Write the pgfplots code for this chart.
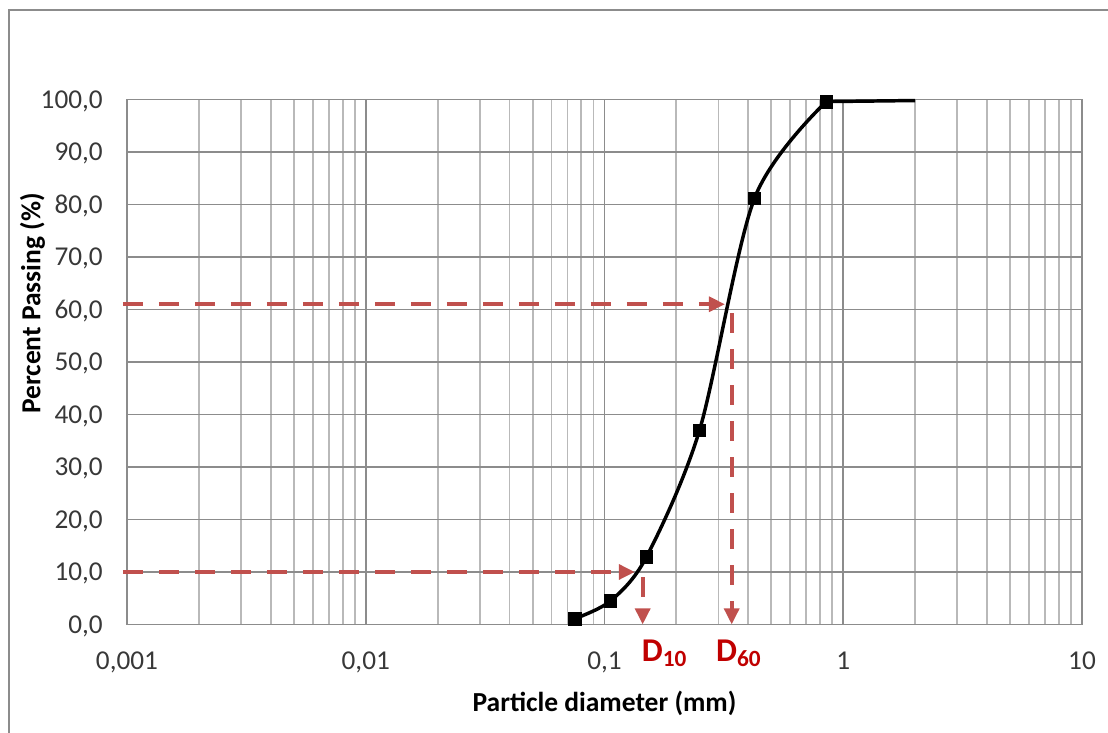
\documentclass[border=0pt]{standalone}
\usepackage{fontspec}
\setmainfont{Carlito}
\usepackage{pgfplots}
\pgfplotsset{compat=1.18}
\usetikzlibrary{arrows.meta}
\definecolor{gridmaj}{RGB}{140,140,140}
\definecolor{gridmin}{RGB}{185,185,185}
\definecolor{arrowred}{RGB}{192,80,77}
\definecolor{labred}{RGB}{192,0,0}
\definecolor{framegray}{RGB}{140,140,140}

\begin{document}
\begin{tikzpicture}[x=1bp,y=1bp]
\useasboundingbox (0,0) rectangle (831,549.75);
% outer chart frame (left and top visible)
\draw[framegray, line width=1.5bp] (6.375,-2) -- (6.375,542.6) -- (833,542.6);
\begin{axis}[
  at={(95.25bp,81.375bp)}, anchor=south west,
  scale only axis, width=716.25bp, height=393.75bp,
  xmode=log, xmin=0.001, xmax=10, ymin=0, ymax=100,
  clip=false,
  xtick={0.001,0.01,0.1,1,10},
  xticklabels={{0,001},{0,01},{0,1},1,10},
  minor xtick={0.002,0.003,0.004,0.005,0.006,0.007,0.008,0.009,
    0.02,0.03,0.04,0.05,0.06,0.07,0.08,0.09,
    0.2,0.3,0.4,0.5,0.6,0.7,0.8,0.9,
    2,3,4,5,6,7,8,9},
  ytick={0,10,...,100},
  yticklabels={{0,0},{10,0},{20,0},{30,0},{40,0},{50,0},{60,0},{70,0},{80,0},{90,0},{100,0}},
  major tick length=0pt, minor tick length=0pt,
  xmajorgrids, xminorgrids, ymajorgrids,
  major x grid style={gridmaj, line width=1.35bp},
  minor x grid style={gridmin, line width=1.35bp},
  major y grid style={gridmaj, line width=1.35bp},
  axis line style={framegray, line width=1.35bp},
  /pgf/number format/assume math mode=true,
  ticklabel style={font=\fontsize{20.5}{24}\selectfont, text=black!78},
  xticklabel style={anchor=base, inner sep=0pt, yshift=-34.1bp},
  yticklabel style={anchor=east, inner sep=0pt, text depth=0pt, xshift=-18bp},
  xlabel={Particle diameter (mm)},
  ylabel={Percent Passing (\%)},
  every axis x label/.style={at={(axis description cs:0.5,-0.1657)}, anchor=base,
    font=\fontsize{20.7}{24}\selectfont\bfseries},
  every axis y label/.style={at={(axis description cs:-0.099,0.6114)}, anchor=center,
    rotate=90, font=\fontsize{20.7}{24}\selectfont\bfseries},
]
% D10 / D60 construction lines
\addplot[arrowred, line width=3bp, dash pattern=on 15bp off 12bp,
  -{Triangle[length=12bp,width=11bp]}] coordinates {(0.00096,61)(0.3196,61)};
\addplot[arrowred, line width=3bp, dash pattern=on 15bp off 12bp,
  -{Triangle[length=12bp,width=11bp]}] coordinates {(0.341,59.3)(0.341,0)};
\addplot[arrowred, line width=3bp, dash pattern=on 15bp off 12bp,
  -{Triangle[length=12bp,width=11bp]}] coordinates {(0.00096,10)(0.134,10)};
\addplot[arrowred, line width=3bp, dash pattern=on 15bp off 12bp,
  -{Triangle[length=12bp,width=11bp]}] coordinates {(0.1445,9)(0.1445,0)};
% grading curve: flat tail to the last sieve, smoothed part with marks
\addplot[black, line width=2.6bp] coordinates {(0.85,99.6)(2,99.8)};
\addplot[black, line width=2.6bp, smooth, mark=square*, mark size=4.7bp,
  mark options={solid, line width=0.5bp}]
  coordinates {(0.075,1.1)(0.106,4.5)(0.15,12.9)(0.25,37.0)(0.425,81.2)(0.85,99.6)};
\node[anchor=base west, inner sep=0pt, text=labred, yshift=-27.9bp] at (axis cs:0.143,0)
  {\fontsize{25}{30}\selectfont\bfseries D\raisebox{-3.75bp}{\fontsize{17.5}{20}\selectfont\bfseries 10}};
\node[anchor=base west, inner sep=0pt, text=labred, yshift=-27.9bp] at (axis cs:0.293,0)
  {\fontsize{25}{30}\selectfont\bfseries D\raisebox{-3.75bp}{\fontsize{17.5}{20}\selectfont\bfseries 60}};
\end{axis}
\end{tikzpicture}
\end{document}
